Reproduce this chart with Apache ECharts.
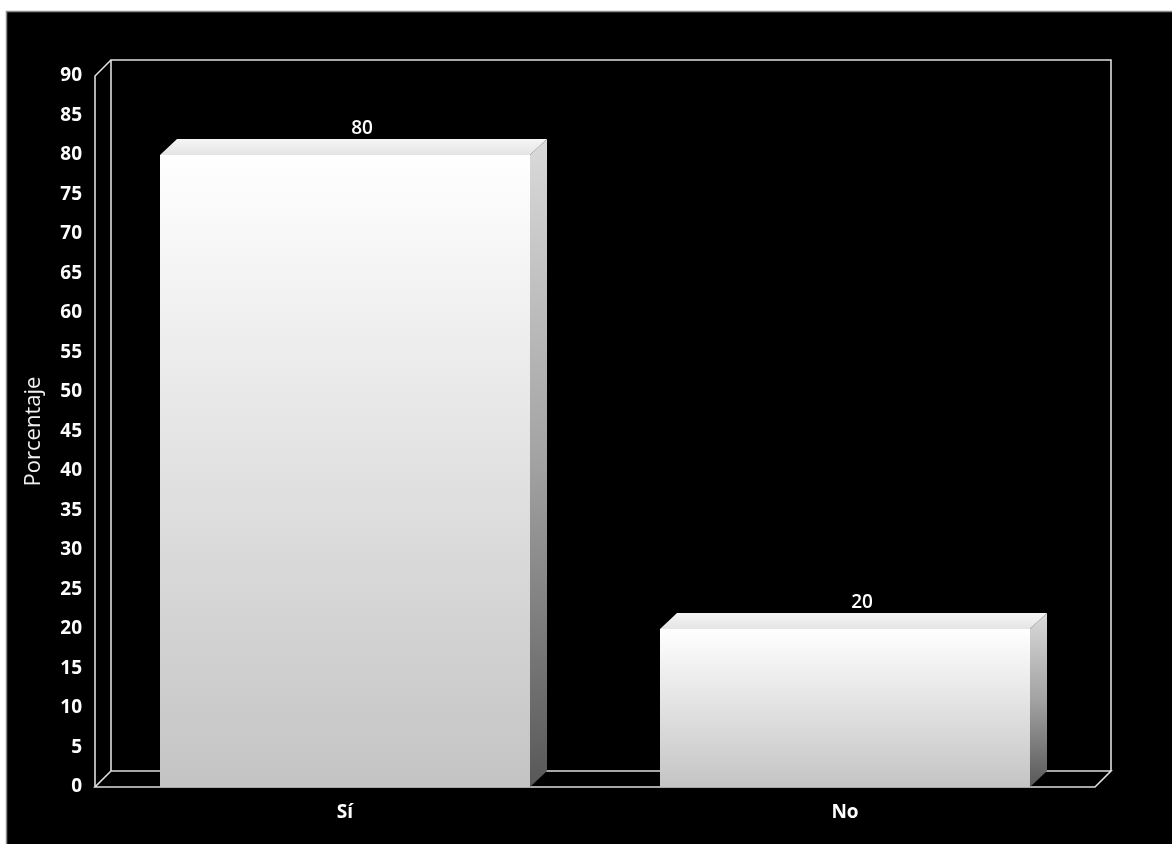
<!DOCTYPE html>
<html>
<head>
<meta charset="utf-8">
<title>Porcentaje</title>
<script src="https://cdn.jsdelivr.net/npm/echarts@6/dist/echarts.min.js"></script>
<style>
  html, body { margin: 0; padding: 0; background: #ffffff; }
  #chart { width: 1172px; height: 844px; }
</style>
</head>
<body>
<div id="chart"></div>
<script>
// Answers, in percent
const categories = ['Sí', 'No'];
const values = [80, 20];

// Value axis range
const yMin = 0;
const yMax = 90;
const yStep = 5;

const FONT = '"Open Sans", "DejaVu Sans", sans-serif';
const DEPTH_X = 17;   // pseudo-3D depth, horizontal
const DEPTH_Y = 16;   // pseudo-3D depth, vertical
const BAR_RATIO = 0.74;

const chart = echarts.init(document.getElementById('chart'), null, { renderer: 'canvas' });

// Box frame: front-left edge, back wall and floor
function renderFrame(params, api) {
  const cs = params.coordSys;
  const L = cs.x, R = cs.x + cs.width, T = cs.y, B = cs.y + cs.height;
  const dx = 16, dy = 16;
  const stroke = { stroke: '#dedede', lineWidth: 1.6, fill: null };
  return {
    type: 'group',
    children: [
      { type: 'polyline', shape: { points: [[L + dx, B - dy], [L + dx, T - dy], [R + dx, T - dy], [R + dx, B - dy]] }, style: stroke },
      { type: 'polyline', shape: { points: [[L, B], [L, T], [L + dx, T - dy]] }, style: stroke },
      { type: 'polygon', shape: { points: [[L, B], [R, B], [R + dx, B - dy], [L + dx, B - dy]] }, style: stroke }
    ]
  };
}

// One shaded prism per category
function renderBar(params, api) {
  const idx = api.value(0);
  const val = api.value(1);
  const top = api.coord([idx, val]);
  const base = api.coord([idx, 0]);
  const band = api.size([1, 0])[0];
  const w = band * BAR_RATIO;
  const l = top[0] - w / 2, r = top[0] + w / 2;
  const t = top[1], b = base[1];
  const dx = DEPTH_X, dy = DEPTH_Y;

  const frontFill = new echarts.graphic.LinearGradient(0, 0, 0, 1, [
    { offset: 0, color: '#ffffff' },
    { offset: 1, color: '#c4c4c4' }
  ]);
  const sideFill = new echarts.graphic.LinearGradient(0, 0, 0, 1, [
    { offset: 0, color: '#dadada' },
    { offset: 0.5, color: '#a2a2a2' },
    { offset: 1, color: '#585858' }
  ]);
  const topFill = new echarts.graphic.LinearGradient(0, 0, 0, 1, [
    { offset: 0, color: '#f6f6f6' },
    { offset: 1, color: '#e4e4e4' }
  ]);

  return {
    type: 'group',
    children: [
      {
        type: 'polygon',
        shape: { points: [[r, t], [r + dx, t - dy], [r + dx, b - dy], [r, b]] },
        style: { fill: sideFill }
      },
      {
        type: 'polygon',
        shape: { points: [[l, t], [l + dx, t - dy], [r + dx, t - dy], [r, t]] },
        style: { fill: topFill }
      },
      {
        type: 'rect',
        shape: { x: l, y: t, width: r - l, height: b - t },
        style: { fill: frontFill }
      },
      {
        type: 'text',
        x: top[0] + dx,
        y: t - dy - 1,
        style: {
          text: String(val),
          fill: '#ffffff',
          font: '600 19px ' + FONT,
          align: 'center',
          verticalAlign: 'bottom'
        }
      }
    ]
  };
}

chart.setOption({
  backgroundColor: '#ffffff',
  animation: false,
  graphic: [
    {
      type: 'rect',
      z: -10,
      silent: true,
      shape: { x: 6.5, y: 11.5, width: 1180, height: 850 },
      style: { fill: '#000000', stroke: '#8c8c8c', lineWidth: 1.5 }
    }
  ],
  grid: { left: 95, right: 77, top: 76, bottom: 57, containLabel: false },
  xAxis: {
    type: 'category',
    data: categories,
    boundaryGap: true,
    axisLine: { show: false },
    axisTick: { show: false },
    splitLine: { show: false },
    axisLabel: {
      color: '#ffffff',
      fontFamily: FONT,
      fontWeight: 'bold',
      fontSize: 19,
      margin: 16
    }
  },
  yAxis: {
    type: 'value',
    min: yMin,
    max: yMax,
    interval: yStep,
    name: 'Porcentaje',
    nameLocation: 'middle',
    nameRotate: 90,
    nameGap: 50,
    nameTextStyle: {
      color: '#f0f0f0',
      fontFamily: FONT,
      fontWeight: 500,
      fontSize: 22
    },
    axisLine: { show: false },
    axisTick: { show: false },
    splitLine: { show: false },
    axisLabel: {
      color: '#ffffff',
      fontFamily: FONT,
      fontWeight: 'bold',
      fontSize: 19,
      margin: 13
    }
  },
  series: [
    {
      type: 'custom',
      name: 'frame',
      silent: true,
      z: 1,
      renderItem: renderFrame,
      data: [[0, 0]]
    },
    {
      type: 'custom',
      name: 'Porcentaje',
      z: 2,
      renderItem: renderBar,
      encode: { x: 0, y: 1 },
      data: categories.map((c, i) => [i, values[i]])
    }
  ]
});
</script>
</body>
</html>
